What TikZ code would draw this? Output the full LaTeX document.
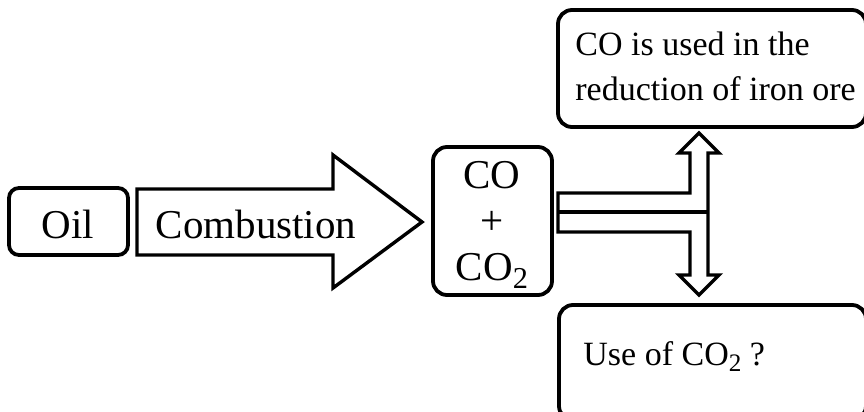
\documentclass[tikz,border=0pt]{standalone}
\usepackage{fontspec}
\setmainfont{Liberation Serif}
\usetikzlibrary{positioning}

\newcommand{\lowsub}[1]{\raisebox{-0.2em}{\scalebox{0.74}{#1}}}

\tikzset{
  blk/.style={draw, line width=1.9pt, rounded corners=7pt},
  bigtxt/.style={font=\fontsize{20.5}{23}\selectfont, inner sep=0pt},
  smalltxt/.style={font=\fontsize{17}{22.5}\selectfont, inner sep=0pt},
  fatarrow/.style={draw, line width=1.7pt, line join=miter},
}

\begin{document}
\begin{tikzpicture}[x=0.5pt,y=-0.5pt]
    \clip (0,0) rectangle (864,412);
    % Boxes
    \draw[blk, rounded corners=5pt] (9,188) rectangle (128,255);
    \draw[blk] (433,147) rectangle (552,295);
    \draw[blk] (558,10) rectangle (866,127);
    \draw[blk] (559,305) rectangle (866,420);

    % Combustion arrow
    \draw[fatarrow] (137,189) -- (333,189) -- (333,155) -- (422,222)
        -- (333,288) -- (333,255) -- (137,255) -- cycle;

    % Split arrow (up and down)
    \draw[fatarrow] (558,193) -- (690,193) -- (690,153) -- (679,153) -- (699,133)
        -- (719,153) -- (708,153) -- (708,275) -- (719,275) -- (699,295)
        -- (679,275) -- (690,275) -- (690,232) -- (558,232) -- cycle;
    \draw[fatarrow] (558,212) -- (708,212);

    % Labels
    \node[bigtxt, anchor=base] (oil) at (68,238) {Oil};
    \node[bigtxt, anchor=base] (burn) at (256,238) {Combustion};
    \node[bigtxt, anchor=base] (co) at (492,188) {CO};
    \node[bigtxt, anchor=base] (plus) at (492,234) {+};
    \node[bigtxt, anchor=base] (co2) at (492,280) {CO\lowsub{2}};
    \node[smalltxt, anchor=base west] (ironA) at (575,55) {CO is used in the};
    \node[smalltxt, anchor=base west] (ironB) at (575,100) {reduction of iron ore};
    \node[smalltxt, anchor=base west] (useco2) at (583,365) {Use of CO\lowsub{2} ?};
\end{tikzpicture}
\end{document}
